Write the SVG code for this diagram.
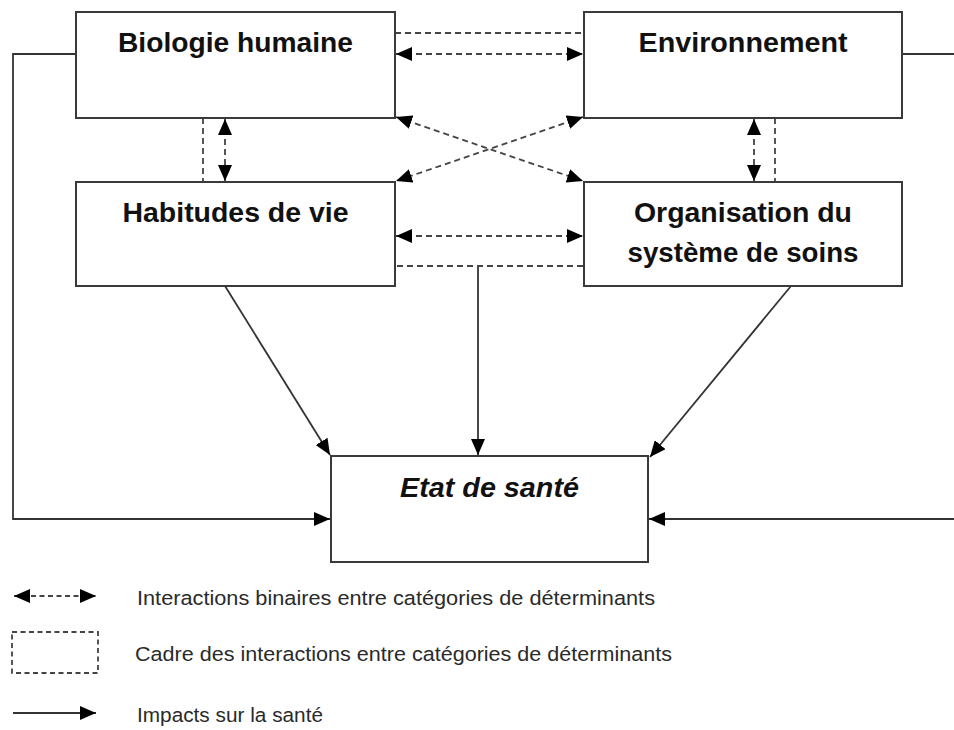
<svg xmlns="http://www.w3.org/2000/svg" width="954" height="730" viewBox="0 0 954 730">
<style>
.box{fill:#fff;stroke:#3a3a3a;stroke-width:2}
.t{font-family:"Liberation Sans",Arial,sans-serif;font-weight:bold;font-size:28px;fill:#111;text-anchor:middle}
.ti{font-style:italic}
.sol{fill:none;stroke:#333;stroke-width:1.8}
.dash{fill:none;stroke:#444;stroke-width:1.8;stroke-dasharray:6 4}
.ldash{fill:none;stroke:#444;stroke-width:1.8;stroke-dasharray:5 3.5}
.leg{font-family:"Liberation Sans",Arial,sans-serif;font-size:20.5px;fill:#2a2a2a}
</style>
<defs>
<marker id="ah" markerUnits="userSpaceOnUse" markerWidth="16" markerHeight="14" refX="16" refY="7" orient="auto-start-reverse" viewBox="0 0 16 14">
<path d="M0,0 L16,7 L0,14 z" fill="#000"/>
</marker>
</defs>
<rect width="954" height="730" fill="#fff"/>
<g id="connectors">
<path class="sol" d="M76,54 H13 V519 H330" marker-end="url(#ah)"/>
<path class="sol" d="M902,54 H954"/>
<path class="sol" d="M954,519 H649" marker-end="url(#ah)"/>
<path class="sol" d="M225,286 L330,455" marker-end="url(#ah)"/>
<path class="sol" d="M478,266 V455" marker-end="url(#ah)"/>
<path class="sol" d="M791,286 L650,457" marker-end="url(#ah)"/>
<path class="dash" d="M395,33 H584"/>
<path class="dash" d="M397,266 H584"/>
<path class="dash" d="M203,118 V182"/>
<path class="dash" d="M775,118 V182"/>
<path class="dash" d="M396,54 H583" marker-start="url(#ah)" marker-end="url(#ah)"/>
<path class="dash" d="M396,236 H583" marker-start="url(#ah)" marker-end="url(#ah)"/>
<path class="dash" d="M225,119 V181" marker-start="url(#ah)" marker-end="url(#ah)"/>
<path class="dash" d="M754,119 V181" marker-start="url(#ah)" marker-end="url(#ah)"/>
<path class="dash" d="M396,117 L583,181" marker-start="url(#ah)" marker-end="url(#ah)"/>
<path class="dash" d="M583,117 L396,181" marker-start="url(#ah)" marker-end="url(#ah)"/>
</g>
<g id="biologie">
<rect class="box" x="76" y="12" width="319" height="106"/>
<text class="t" x="235.5" y="52" textLength="235" lengthAdjust="spacingAndGlyphs">Biologie humaine</text>
</g>
<g id="environnement">
<rect class="box" x="584" y="12" width="318" height="106"/>
<text class="t" x="743" y="52" textLength="209" lengthAdjust="spacingAndGlyphs">Environnement</text>
</g>
<g id="habitudes">
<rect class="box" x="76" y="182" width="319" height="104"/>
<text class="t" x="235.5" y="222" textLength="226" lengthAdjust="spacingAndGlyphs">Habitudes de vie</text>
</g>
<g id="organisation">
<rect class="box" x="584" y="182" width="318" height="104"/>
<text class="t" x="743" y="222" textLength="218" lengthAdjust="spacingAndGlyphs">Organisation du</text>
<text class="t" x="743" y="262" textLength="231" lengthAdjust="spacingAndGlyphs">système de soins</text>
</g>
<g id="etat">
<rect class="box" x="331" y="456" width="317" height="106"/>
<text class="t ti" x="489.5" y="497" textLength="179" lengthAdjust="spacingAndGlyphs">Etat de santé</text>
</g>
<g id="legend">
<path class="ldash" d="M14,596 H96" marker-start="url(#ah)" marker-end="url(#ah)"/>
<rect class="ldash" x="12" y="632" width="86" height="41"/>
<path class="sol" d="M13,713 H96" marker-end="url(#ah)"/>
<text class="leg" x="137" y="605" textLength="518" lengthAdjust="spacingAndGlyphs">Interactions binaires entre catégories de déterminants</text>
<text class="leg" x="135" y="661" textLength="537" lengthAdjust="spacingAndGlyphs">Cadre des interactions entre catégories de déterminants</text>
<text class="leg" x="137" y="722" textLength="186" lengthAdjust="spacingAndGlyphs">Impacts sur la santé</text>
</g>
</svg>
